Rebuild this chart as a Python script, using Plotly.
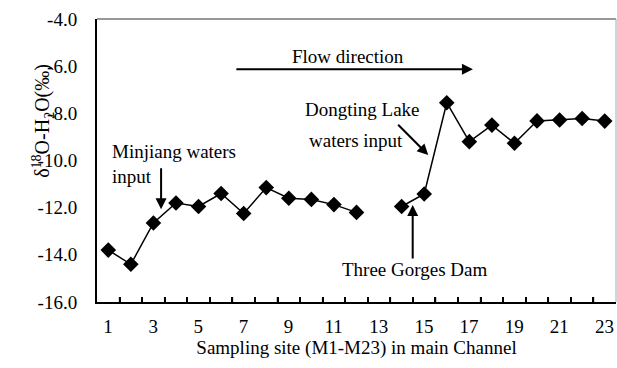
import plotly.graph_objects as go

sites = list(range(1, 24))
delta18O = [-13.8, -14.4, -12.65, -11.8, -11.95, -11.4, -12.25, -11.15, -11.6, -11.65,
            -11.87, -12.2, None, -11.95, -11.42, -7.55, -9.2, -8.5, -9.27, -8.32,
            -8.28, -8.22, -8.33]
# category boundaries (tick marks) and every-other-site labels
boundary_ticks = [s - 0.5 for s in sites]
tick_text = [str(s) if s % 2 == 1 else "" for s in sites]
ytick_vals = [-16, -14, -12, -10, -8, -6, -4]

FONT = "Times New Roman, Liberation Serif, serif"
FS = 19
XRANGE = [0.5, 23.5]
PLOT_W, PLOT_H = 519, 283
CAT_W = PLOT_W / len(sites)

fig = go.Figure()
fig.add_trace(go.Scatter(
    x=sites, y=delta18O, mode="lines+markers",
    line=dict(color="black", width=1.5),
    marker=dict(symbol="diamond", size=12, color="black"),
    connectgaps=False, showlegend=False,
))

fig.update_layout(
    width=617, height=368,
    margin=dict(l=97, r=1, t=19, b=66),
    paper_bgcolor="white", plot_bgcolor="white",
    font=dict(family=FONT, size=FS, color="black"),
    xaxis=dict(
        range=XRANGE, tickmode="array", tickvals=boundary_ticks, ticktext=tick_text,
        ticks="inside", ticklen=5, tickwidth=1.5, tickcolor="black",
        ticklabelshift=int(round(CAT_W / 2)),
        showgrid=False, zeroline=False,
        showline=True, linecolor="black", linewidth=2,
        tickfont=dict(family=FONT, size=FS), ticklabelstandoff=6,
        title=dict(text="Sampling site (M1-M23) in main Channel", font=dict(family=FONT, size=FS), standoff=4),
    ),
    yaxis=dict(
        range=[-16, -4], tickvals=ytick_vals, ticktext=[f"{v:.1f}" for v in ytick_vals],
        ticks="", showgrid=False, zeroline=False,
        showline=True, linecolor="black", linewidth=2,
        tickfont=dict(family=FONT, size=FS), ticklabelstandoff=14,
    ),
)

# category-boundary tick marks along the bottom axis
for b in boundary_ticks[1:]:
    fig.add_shape(type="line", xref="x", yref="paper", x0=b, x1=b, y0=0, y1=5 / PLOT_H,
                  line=dict(color="black", width=1.5), layer="above")

# frame top / right
fig.add_shape(type="line", xref="paper", yref="paper", x0=0, x1=1, y0=1, y1=1,
              line=dict(color="#333333", width=1.2))
fig.add_shape(type="line", xref="paper", yref="paper", x0=1, x1=1, y0=0, y1=1,
              line=dict(color="#aaaaaa", width=1))

# y-axis title
fig.add_annotation(xref="paper", yref="paper", x=-0.135, y=0.64, textangle=-90,
                   text="δ<sup>18</sup>O-H<sub>2</sub>O(‰)", showarrow=False,
                   font=dict(family=FONT, size=20))

def arrow(x, y, ax, ay):
    fig.add_annotation(x=x, y=y, ax=ax, ay=ay, xref="x", yref="y", axref="x", ayref="y",
                       text="", showarrow=True, arrowhead=2, arrowsize=1.1, arrowwidth=2,
                       arrowcolor="black")

# Flow direction
arrow(17.16, -6.13, 6.61, -6.13)
fig.add_annotation(x=11.62, y=-5.57, xref="x", yref="y", text="Flow direction",
                   showarrow=False, font=dict(family=FONT, size=FS))

# Minjiang
arrow(3.34, -12.07, 3.34, -10.26)
fig.add_annotation(x=1.08, y=-10.15, xref="x", yref="y", xanchor="left", align="left",
                   text="Minjiang waters<br>input", showarrow=False, font=dict(family=FONT, size=FS))

# Dongting
arrow(15.18, -9.77, 13.78, -8.42)
fig.add_annotation(x=12.26, y=-7.83, xref="x", yref="y", text="Dongting Lake",
                   showarrow=False, font=dict(family=FONT, size=FS))
fig.add_annotation(x=11.99, y=-9.15, xref="x", yref="y", text="waters input",
                   showarrow=False, font=dict(family=FONT, size=FS))

# Three Gorges Dam
arrow(14.49, -11.89, 14.49, -14.22)
fig.add_annotation(x=14.55, y=-14.64, xref="x", yref="y", text="Three Gorges Dam",
                   showarrow=False, font=dict(family=FONT, size=FS))

fig.write_html("out.html")
